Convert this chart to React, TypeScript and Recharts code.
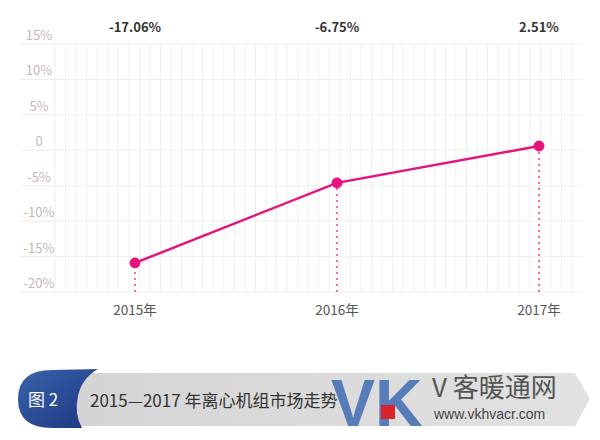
import React from 'react'
import {
    LineChart,
    Line,
    XAxis,
    YAxis,
    CartesianGrid,
    ReferenceLine,
    LabelList,
} from 'recharts'

// categories and values
const years = ['2015年', '2016年', '2017年']
const growth = [-15.9, -4.6, 0.6]
const growthLabels = ['-17.06%', '-6.75%', '2.51%']
const yTicks = [-20, -15, -10, -5, 0, 5, 10, 15]

const data = years.map((year, i) => ({ year, value: growth[i], label: growthLabels[i] }))

const FONT = '"Noto Sans CJK SC", "Noto Sans", sans-serif'
const PINK = '#e6137f'

// y tick: text sits above the gridline, plus a short stub of the line under it
const YTick = (props: any) => {
    const { x, y, payload } = props
    const v = payload.value
    return (
        <g>
            <line x1={20} x2={x + 8} y1={y} y2={y} stroke="#ececec" strokeWidth={1} />
            <text x={39} y={y - 4} textAnchor="middle" fontSize={13} fill="#c4b7b6" fontFamily={FONT}>
                {v === 0 ? '0' : `${v}%`}
            </text>
        </g>
    )
}

const TopLabel = (props: any) => {
    const { x, value } = props
    return (
        <text x={x} y={32} textAnchor="middle" fontSize={13} fontWeight={600} fill="#333" fontFamily={FONT}>
            {value}
        </text>
    )
}

const verticalLines = ({ offset }: any) => {
    const out: number[] = []
    for (let x = offset.left; x <= offset.left + offset.width + 0.5; x += 10.55) out.push(x)
    return out
}

export default function App() {
    return (
        <div style={{ position: 'absolute', left: 0, top: 0, width: 600, height: 440, background: '#fff', fontFamily: FONT }}>
            <LineChart width={600} height={330} data={data} margin={{ top: 44, right: 18, left: 0, bottom: 0 }}>
                <CartesianGrid
                    stroke="#efefef"
                    verticalCoordinatesGenerator={verticalLines}
                />
                <XAxis
                    dataKey="year"
                    axisLine={false}
                    tickLine={false}
                    padding={{ left: 80, right: 43 }}
                    height={38}
                    tickMargin={7}
                    tick={{ fontSize: 13.5, fill: '#555', fontFamily: FONT }}
                />
                <YAxis
                    width={55}
                    domain={[-20, 15]}
                    ticks={yTicks}
                    interval={0}
                    axisLine={false}
                    tickLine={false}
                    tick={<YTick />}
                />
                {data.map((d) => (
                    <ReferenceLine
                        key={d.year}
                        segment={[{ x: d.year, y: -20 }, { x: d.year, y: d.value }]}
                        stroke="#f26aa9"
                        strokeWidth={2}
                        strokeDasharray="2 4"
                    />
                ))}
                <Line
                    type="linear"
                    dataKey="value"
                    stroke={PINK}
                    strokeWidth={2.5}
                    dot={{ r: 5, fill: PINK, stroke: PINK, strokeWidth: 1 }}
                    activeDot={false}
                    isAnimationActive={false}
                >
                    <LabelList dataKey="label" content={<TopLabel />} />
                </Line>
            </LineChart>

            {/* caption banner */}
            <svg width={600} height={110} style={{ position: 'absolute', left: 0, top: 330 }}>
                <defs>
                    <linearGradient id="band" x1="0" y1="0" x2="1" y2="0">
                        <stop offset="0%" stopColor="#d4d4d4" />
                        <stop offset="100%" stopColor="#e2e2e2" />
                    </linearGradient>
                    <linearGradient id="blob" x1="0" y1="0" x2="1" y2="1">
                        <stop offset="0%" stopColor="#3b63ad" />
                        <stop offset="100%" stopColor="#1c3580" />
                    </linearGradient>
                </defs>
                <path d="M 70 43 L 575 43 L 590 69 L 575 96 L 70 96 Z" fill="url(#band)" />
                <path d="M 98 39 L 52 40 Q 18 40 18 69 Q 18 98 52 98 L 82 98 Q 74 84 78 66 Q 82 48 98 39 Z" fill="url(#blob)" />
                <text x={28} y={76} fontSize={17} fill="#fff" fontFamily={FONT}>图 2</text>
                <text x={90} y={77} fontSize={17} fill="#333" fontFamily={FONT}>2015—2017 年离心机组市场走势</text>
                <g opacity={0.85}>
                    <text x={331} y={96} fontSize={66} fontWeight={700} fill="#3f6db4" fontFamily='"Liberation Sans", sans-serif'>VK</text>
                </g>
                <rect x={381} y={75} width={14} height={14} fill="#d9232c" />
                <text x={432} y={67} fontSize={26} fill="#555" fontFamily={FONT}>V 客暖通网</text>
                <text x={434} y={89} fontSize={14} fill="#444" fontFamily='"Liberation Sans", sans-serif'>www.vkhvacr.com</text>
            </svg>
        </div>
    )
}
